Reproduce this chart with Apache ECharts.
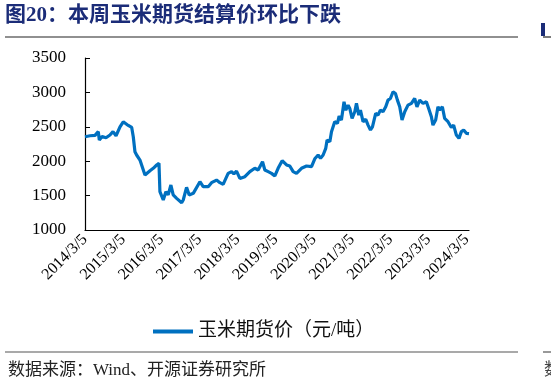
<!DOCTYPE html>
<html>
<head>
<meta charset="utf-8">
<script src="https://cdn.jsdelivr.net/npm/echarts@6/dist/echarts.min.js"></script>
<style>
html,body{margin:0;padding:0;background:#fff;}
#chart{width:551px;height:386px;}
</style>
</head>
<body>
<div id="chart"></div>
<script>
const titleText = '图20：本周玉米期货结算价环比下跌';
const sourceText = '数据来源：Wind、开源证券研究所';
const seriesName = '玉米期货价（元/吨）';

const tickDates = ['2014-03-05','2015-03-05','2016-03-05','2017-03-05','2018-03-05','2019-03-05',
  '2020-03-05','2021-03-05','2022-03-05','2023-03-05','2024-03-05'];

const dates = [
'2014-03-05','2014-04-22','2014-06-09','2014-07-10','2014-07-20','2014-08-15','2014-09-22','2014-10-30',
'2014-11-28','2014-12-27','2015-02-03','2015-03-06','2015-04-23','2015-05-26','2015-06-10','2015-06-26',
'2015-07-12','2015-08-13','2015-08-29','2015-09-30','2015-10-16','2015-11-17','2015-12-18','2016-01-20',
'2016-02-11','2016-02-20','2016-03-23','2016-04-17','2016-05-09','2016-06-04','2016-06-26','2016-07-29',
'2016-09-15','2016-09-30','2016-11-01','2016-11-26','2017-01-04','2017-03-09','2017-04-09','2017-05-27',
'2017-06-28','2017-08-15','2017-09-16','2017-10-17','2017-12-04','2018-01-06','2018-01-28','2018-02-22',
'2018-03-26','2018-05-13','2018-06-30','2018-08-16','2018-09-17','2018-10-29','2018-11-20','2018-12-22',
'2019-01-23','2019-02-24','2019-03-27','2019-05-05','2019-06-16','2019-07-17','2019-08-18','2019-09-19',
'2019-11-06','2019-12-24','2020-02-10','2020-03-12','2020-04-13','2020-05-06','2020-05-31','2020-06-25',
'2020-07-08','2020-08-03','2020-08-19','2020-09-19','2020-10-15','2020-10-31','2020-11-22','2020-12-17',
'2021-01-03','2021-01-25','2021-02-10','2021-03-04','2021-03-30','2021-04-15','2021-05-07','2021-05-23',
'2021-06-17','2021-07-13','2021-08-04','2021-08-27','2021-09-15','2021-10-16','2021-11-07','2021-11-30',
'2021-12-25','2022-01-20','2022-02-11','2022-03-06','2022-03-31','2022-04-23','2022-05-12','2022-06-03',
'2022-06-25','2022-07-21','2022-08-21','2022-09-23','2022-10-24','2022-11-15','2022-12-11','2023-01-12',
'2023-02-13','2023-03-07','2023-04-02','2023-04-17','2023-05-13','2023-06-04','2023-06-20','2023-07-16',
'2023-08-07','2023-09-08','2023-10-10','2023-11-01','2023-11-27','2023-12-22','2024-01-14','2024-02-05',
'2024-03-02','2024-03-27'
];

const prices = [
2356,2370,2375,2430,2308,2360,2340,2380,
2430,2370,2500,2573,2520,2490,2355,2138,
2090,2017,1993,1800,1775,1862,1897,1945,
1970,1557,1436,1557,1510,1654,1510,1460,
1397,1436,1620,1510,1533,1702,1630,1630,
1688,1726,1688,1664,1823,1848,1814,1857,
1750,1775,1848,1897,1872,1993,1872,1848,
1823,1785,1897,2008,1945,1930,1848,1823,
1897,1930,1920,2035,2090,2041,2090,2187,
2308,2284,2429,2574,2550,2657,2597,2864,
2743,2815,2767,2622,2719,2840,2670,2743,
2574,2609,2525,2453,2500,2695,2670,2743,
2719,2791,2888,2912,3010,2985,2888,2791,
2598,2719,2815,2840,2912,2791,2888,2840,
2864,2767,2646,2525,2598,2791,2743,2791,
2622,2574,2490,2525,2380,2332,2430,2453,
2405,2400
];

const yMin = 1000, yMax = 3500, yStep = 500;
const xMin = '2014-03-05', xMax = '2024-03-27';

const serif = "'Liberation Serif','Noto Sans CJK SC'";
const chart = echarts.init(document.getElementById('chart'), null, {renderer: 'canvas'});

function ts(s) {
  const p = s.split('-').map(Number);
  return Date.UTC(p[0], p[1] - 1, p[2]);
}
function fmtDate(v) {
  const d = new Date(v);
  return d.getUTCFullYear() + '/' + (d.getUTCMonth() + 1) + '/' + d.getUTCDate();
}

chart.setOption({
  backgroundColor: '#fff',
  animation: false,
  grid: {left: 85, right: 82, top: 58, bottom: 156, containLabel: false},
  legend: {
    left: 148, top: 317,
    itemWidth: 40, itemHeight: 4, itemGap: 10,
    icon: 'rect',
    textStyle: {fontFamily: serif, fontSize: 19, color: '#111'},
    data: [seriesName]
  },
  xAxis: {
    type: 'value',
    min: ts(xMin), max: ts(xMax),
    axisLine: {show: true, onZero: false, lineStyle: {color: '#000', width: 1.2}},
    axisTick: {show: false},
    splitLine: {show: false},
    axisLabel: {
      customValues: tickDates.map(ts),
      rotate: 45, margin: 7,
      fontFamily: serif, fontSize: 16, color: '#000',
      formatter: fmtDate,
      hideOverlap: false
    }
  },
  yAxis: {
    type: 'value',
    min: yMin, max: yMax, interval: yStep,
    axisLine: {show: true, lineStyle: {color: '#000', width: 1.2}},
    axisTick: {show: true, inside: true, length: 5, lineStyle: {color: '#000'}},
    splitLine: {show: false},
    axisLabel: {fontFamily: serif, fontSize: 17, color: '#000', margin: 19, formatter: v => String(v)}
  },
  series: [{
    name: seriesName,
    type: 'line',
    showSymbol: false,
    symbol: 'none',
    data: dates.map((d, i) => [ts(d), prices[i]]),
    lineStyle: {color: '#0070C0', width: 3.2},
    itemStyle: {color: '#0070C0'}
  }],
  graphic: [
    {type: 'text', left: 5, top: 5, style: {text: titleText, fontFamily: serif, fontWeight: 'bold', fontSize: 21, fill: '#1B2C78'}},
    {type: 'line', shape: {x1: 5, y1: 37, x2: 518, y2: 37}, style: {stroke: '#222', lineWidth: 1.2}},
    {type: 'rect', shape: {x: 541, y: 23, width: 4, height: 13}, style: {fill: '#1B2C78'}},
    {type: 'line', shape: {x1: 543, y1: 37, x2: 551, y2: 37}, style: {stroke: '#222', lineWidth: 1.2}},
    {type: 'line', shape: {x1: 5, y1: 352, x2: 518, y2: 352}, style: {stroke: '#555', lineWidth: 1.2}},
    {type: 'text', left: 8, top: 362, style: {text: sourceText, fontFamily: serif, fontSize: 17, fill: '#222'}},
    {type: 'line', shape: {x1: 543, y1: 352, x2: 551, y2: 352}, style: {stroke: '#555', lineWidth: 1.2}},
    {type: 'text', x: 544, y: 362, style: {text: '数', fontFamily: serif, fontSize: 17, fill: '#444'}}
  ]
});
</script>
</body>
</html>
